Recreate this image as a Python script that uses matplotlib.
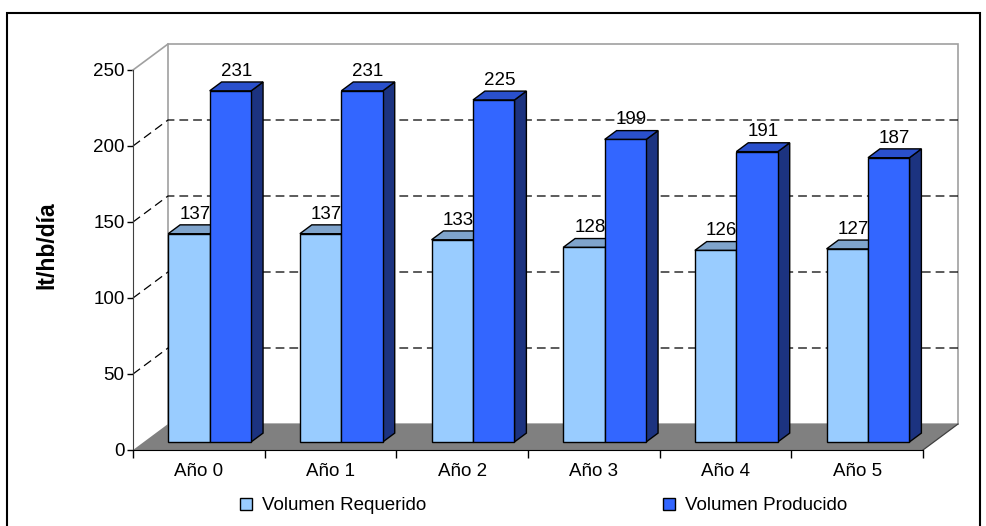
import matplotlib
matplotlib.use("Agg")
import matplotlib.pyplot as plt
from matplotlib.patches import Polygon, Rectangle, Patch

# datos
anios = ["Año 0", "Año 1", "Año 2", "Año 3", "Año 4", "Año 5"]
requerido = [137, 137, 133, 128, 126, 127]
producido = [231, 231, 225, 199, 191, 187]
series = ["Volumen Requerido", "Volumen Producido"]
yticks = [0, 50, 100, 150, 200, 250]

plt.rcParams["font.family"] = ["Liberation Sans", "DejaVu Sans"]

W, H = 987, 526
fig = plt.figure(figsize=(W / 100, H / 100), dpi=100)

# plano frontal del grafico en pixeles
x0, x1, yb, yt = 133, 923, 450, 70
ax = fig.add_axes([x0 / W, 1 - yb / H, (x1 - x0) / W, (yb - yt) / H])
ncat = len(anios)
ymax = 250
ax.set_xlim(0, ncat)
ax.set_ylim(0, ymax)

# profundidad 3D en unidades de datos
dx = 35 / (x1 - x0) * ncat
dy = 26 / (yb - yt) * ymax

# pared del fondo y piso
ax.add_patch(Polygon([(dx, dy), (ncat + dx, dy), (ncat + dx, ymax + dy), (dx, ymax + dy)],
                     closed=True, fc="white", ec="#a0a0a0", lw=1.2, clip_on=False, zorder=1))
ax.add_patch(Polygon([(0, 0), (ncat, 0), (ncat + dx, dy), (dx, dy)],
                     closed=True, fc="#808080", ec="none", clip_on=False, zorder=2))
ax.plot([ncat, ncat + dx], [0, dy], color="#404040", lw=0.9, clip_on=False, zorder=2)
ax.plot([0, dx], [ymax, ymax + dy], color="#a0a0a0", lw=1.2, clip_on=False, zorder=2)

# lineas de division
for v in yticks[1:-1]:
    ax.plot([0, dx, ncat + dx], [v, v + dy, v + dy], color="black", lw=0.9,
            ls=(0, (7, 4)), clip_on=False, zorder=2)

# barras 3D
colores = [("#99ccff", "#7fa4cc", "#5a7fa8"), ("#3366ff", "#2a50cc", "#1c3380")]
ancho = 0.315
f0, f1 = 0.31, 0.65
for i in range(ncat):
    for j, vals in enumerate([requerido, producido]):
        v = vals[i]
        front, top, side = colores[j]
        a = i + 0.185 + j * ancho
        b = a + ancho
        z = 3 + j
        ax.add_patch(Polygon([(b + f0 * dx, f0 * dy), (b + f1 * dx, f1 * dy),
                              (b + f1 * dx, v + f1 * dy), (b + f0 * dx, v + f0 * dy)],
                             closed=True, fc=side, ec="black", lw=1, clip_on=False, zorder=z))
        ax.add_patch(Polygon([(a + f0 * dx, v + f0 * dy), (b + f0 * dx, v + f0 * dy),
                              (b + f1 * dx, v + f1 * dy), (a + f1 * dx, v + f1 * dy)],
                             closed=True, fc=top, ec="black", lw=1, clip_on=False, zorder=z))
        ax.add_patch(Polygon([(a + f0 * dx, f0 * dy), (b + f0 * dx, f0 * dy),
                              (b + f0 * dx, v + f0 * dy), (a + f0 * dx, v + f0 * dy)],
                             closed=True, fc=front, ec="black", lw=1, clip_on=False, zorder=z))
        ax.text((a + b) / 2 + (f0 + f1) / 2 * dx, v + f1 * dy + 1.5, str(v),
                ha="center", va="bottom", fontsize=13.5, zorder=10, clip_on=False)

# ejes
for s in ["top", "right"]:
    ax.spines[s].set_visible(False)
ax.spines["left"].set_color("#404040")
ax.spines["bottom"].set_color("black")
ax.spines["left"].set_zorder(6)
ax.spines["bottom"].set_zorder(6)
ax.set_facecolor("none")
ax.set_yticks(yticks)
ax.tick_params(axis="y", labelsize=13.5, length=4, width=1, direction="out", pad=2)
ax.set_xticks(range(ncat + 1))
ax.set_xticklabels([])
ax.set_xticks([i + 0.5 for i in range(ncat)], minor=True)
ax.set_xticklabels(anios, minor=True)
ax.tick_params(axis="x", which="major", length=6, width=1, direction="out")
ax.tick_params(axis="x", which="minor", length=0, labelsize=13.5, pad=9)

fig.text(47 / W, 1 - 245 / H, "lt/hb/día", rotation=90, ha="center", va="center",
         fontsize=16.5, fontweight="bold")

handles = [Patch(fc=colores[k][0], ec="black", lw=1) for k in range(2)]
fig.legend(handles, series, loc="center", bbox_to_anchor=(0.551, 1 - 506 / H), ncol=2,
           frameon=False, fontsize=13.5, handlelength=0.65, handleheight=0.65,
           handletextpad=0.55, columnspacing=12.6)

# marco exterior
fig.add_artist(Rectangle((7 / W, -0.05), (980 - 7) / W, 1.05 - 13 / H, transform=fig.transFigure,
                         fill=False, ec="black", lw=1.5))

fig.savefig("out.png", dpi=100)
